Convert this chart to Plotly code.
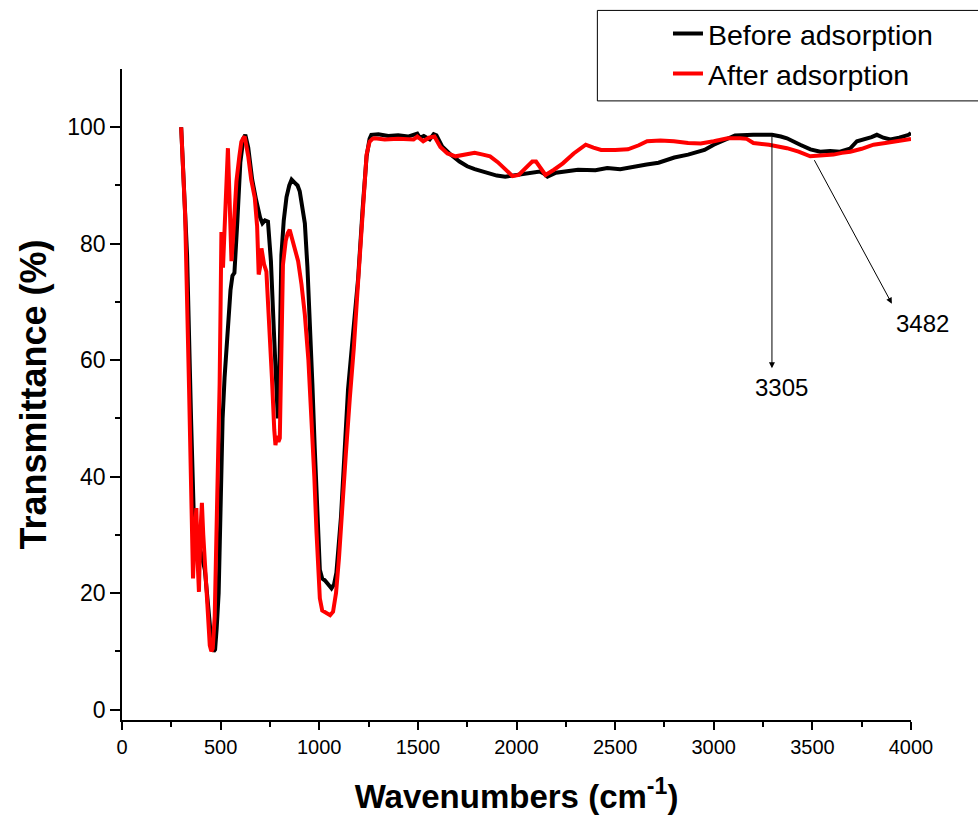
import plotly.graph_objects as go

# ---------------- data ----------------
before_x = [300,330,350,365,380,400,420,440,455,465,472,480,490,500,510,520,535,550,560,570,585,600,615,625,640,660,680,700,712,725,740,755,770,783,790,797,808,820,834,848,860,875,890,901,915,927,940,952,965,977,990,1003,1015,1028,1045,1062,1075,1087,1110,1146,1170,1197,1220,1240,1255,1264,1300,1350,1400,1450,1497,1510,1530,1560,1580,1594,1623,1660,1711,1750,1788,1850,1900,1943,1980,2021,2070,2118,2140,2157,2200,2250,2312,2400,2460,2526,2600,2660,2720,2800,2870,2953,3000,3050,3108,3200,3295,3340,3371,3438,3490,3540,3590,3640,3690,3726,3760,3800,3827,3860,3895,3940,3988,4000]
before_y = [100,78,50,32,29,27,24,16,11,10,10.3,14,20,35,50,57,65,72,74.5,75,84,94,98,98.7,96.5,91,87.5,84.5,83.5,84,83.8,77,65,53,50,56,78,84,88,90,91,90.5,90,89,86.5,83.5,76,68,56,45,33,24,22.5,22.2,21.5,20.8,21.5,23.5,33,55,64,74,86,95,98,98.7,98.8,98.5,98.6,98.4,98.9,98.2,98.5,97.9,98.8,98.6,96.7,95.5,94.1,93.3,92.8,92.2,91.7,91.5,91.7,91.9,92.1,92.4,92.0,91.5,92.2,92.5,92.7,92.6,93,92.8,93.3,93.6,93.9,94.8,95.3,96.1,97,97.8,98.6,98.7,98.7,98.4,98.1,97,96.2,95.8,95.9,95.8,96.3,97.6,97.9,98.3,98.7,98.2,97.9,98.2,98.7,99]

after_x = [300,320,340,352,360,368,377,384,390,397,405,412,419,430,445,453,460,470,478,488,495,500,504,508,512,520,530,537,545,555,565,580,595,605,614,622,640,655,673,685,693,700,707,720,732,745,760,772,778,785,793,800,808,816,830,840,850,865,880,893,910,927,945,961,975,986,995,1003,1015,1037,1055,1070,1085,1100,1113,1135,1155,1175,1197,1220,1240,1255,1270,1282,1332,1400,1450,1478,1497,1527,1556,1584,1614,1650,1691,1740,1788,1830,1866,1905,1943,1980,2011,2050,2080,2099,2120,2147,2190,2235,2290,2351,2390,2429,2500,2565,2620,2662,2730,2798,2870,2934,3000,3070,3134,3167,3201,3280,3371,3430,3489,3540,3607,3650,3692,3750,3810,3870,3930,3988,4000]
after_y = [100,85,55,35,22.5,30,34.6,25,20.2,30,35.5,30,26,18,11,10,10.5,16,27.7,42,56,70,82,80,75.9,82,90,96.4,88,77,82,90.7,95,97.5,98.1,98.4,95,91,87.9,83,74.7,76,79.2,76.5,75.2,68,57,48,45.4,47,46,46.6,62,76.4,80.5,81.8,82.4,80.5,78.5,77,73,67.8,60,50.6,40,30.5,23,19.1,17,16.5,16.2,16.8,20,26,33.4,44,53.5,62,73.5,86,95.3,97.5,98,98.1,97.9,98,97.9,97.9,98.4,97.6,98.2,98.4,96.6,95.5,95.0,95.3,95.6,95.3,95.0,94,92.7,91.6,91.8,93.2,94.1,94.1,93,91.8,92.7,93.8,95.5,97.0,96.5,96.1,96.1,96.2,96.9,97.6,97.7,97.6,97.3,97.2,97.6,98.1,98.1,98.0,97.3,97,96.4,95.8,95.0,95.1,95.3,95.6,95.8,96.3,97,97.3,97.6,97.9,98]

series_names = ["Before adsorption", "After adsorption"]
x_ticks = [0, 500, 1000, 1500, 2000, 2500, 3000, 3500, 4000]
y_ticks = [0, 20, 40, 60, 80, 100]
peak_labels = ["3305", "3482"]

FONT = "Liberation Sans, Arial, sans-serif"

fig = go.Figure()
fig.add_trace(go.Scatter(x=before_x, y=before_y, mode="lines", name=series_names[0],
                         line=dict(color="black", width=4)))
fig.add_trace(go.Scatter(x=after_x, y=after_y, mode="lines", name=series_names[1],
                         line=dict(color="#ff0000", width=4)))

# annotation arrows
fig.add_annotation(x=3295, y=58.6, ax=3295, ay=98.7, xref="x", yref="y", axref="x", ayref="y",
                   text="", showarrow=True, arrowhead=2, arrowsize=1.2, arrowwidth=1, arrowcolor="black")
fig.add_annotation(x=3345, y=55.3, xref="x", yref="y", text=peak_labels[0], showarrow=False,
                   font=dict(family=FONT, size=24, color="black"))
fig.add_annotation(x=3903, y=69.7, ax=3506, ay=94.6, xref="x", yref="y", axref="x", ayref="y",
                   text="", showarrow=True, arrowhead=2, arrowsize=1.2, arrowwidth=1, arrowcolor="black")
fig.add_annotation(x=3915, y=66.3, xref="x", yref="y", xanchor="left", text=peak_labels[1], showarrow=False,
                   font=dict(family=FONT, size=24, color="black"))

# legend box (extends past right edge like the reference)
fig.add_shape(type="rect", xref="paper", yref="paper", x0=0.6025, x1=1.2, y0=0.951, y1=1.09,
              line=dict(color="black", width=1), fillcolor="rgba(0,0,0,0)")

fig.update_layout(
    width=978, height=816,
    margin=dict(l=122, r=67, t=69, b=96, autoexpand=False),
    paper_bgcolor="white", plot_bgcolor="white",
    font=dict(family=FONT, color="black"),
    showlegend=True,
    legend=dict(x=0.692, y=1.093, xanchor="left", yanchor="top",
                bgcolor="rgba(0,0,0,0)", borderwidth=0,
                font=dict(family=FONT, size=28.5, color="black"),
                tracegroupgap=0, itemwidth=30),
    xaxis=dict(range=[0, 4000], tickvals=x_ticks, ticktext=[str(v) for v in x_ticks],
               automargin=False,
               showgrid=False, zeroline=False, showline=True, linecolor="black", linewidth=1.5,
               ticks="outside", ticklen=8, tickwidth=1.5, tickcolor="black",
               minor=dict(dtick=250, ticks="outside", ticklen=5, tickwidth=1.5, tickcolor="black"),
               tickfont=dict(family=FONT, size=20, color="black"),
               title=dict(text="<b>Wavenumbers (cm<sup>-1</sup>)</b>", standoff=28,
                          font=dict(family=FONT, size=33, color="black"))),
    yaxis=dict(range=[-1.8, 110], tickvals=y_ticks, ticktext=[str(v) for v in y_ticks],
               automargin=False,
               showgrid=False, zeroline=False, showline=True, linecolor="black", linewidth=1.5,
               ticks="outside", ticklen=10, tickwidth=1.5, tickcolor="black",
               minor=dict(tickvals=[10, 30, 50, 70, 90], ticks="outside", ticklen=5, tickwidth=1.5, tickcolor="black"),
               tickfont=dict(family=FONT, size=23, color="black"),
               title=dict(text="<b>Transmittance (%)</b>", standoff=10,
                          font=dict(family=FONT, size=36, color="black"))),
)

fig.write_html("out.html")
